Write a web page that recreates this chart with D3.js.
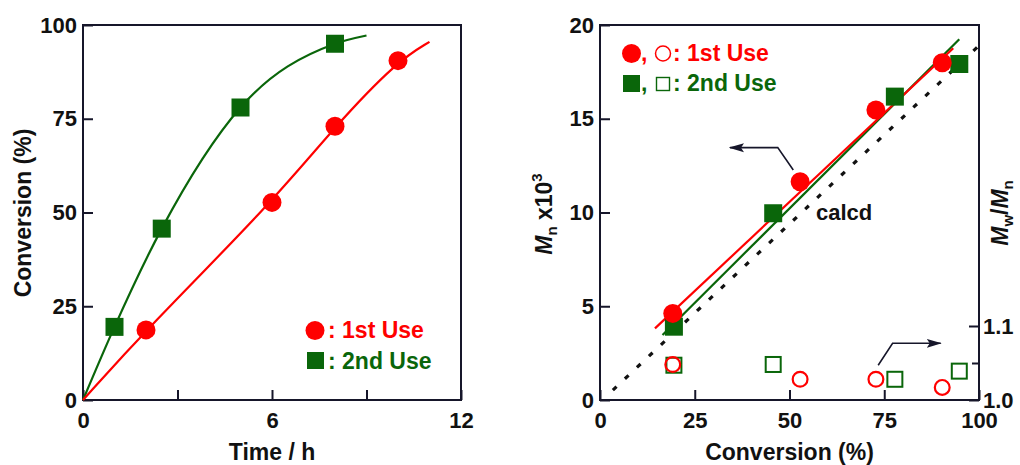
<!DOCTYPE html>
<html><head><meta charset="utf-8">
<script src="https://cdn.jsdelivr.net/npm/d3@7/dist/d3.min.js"></script>
<style>
html,body{margin:0;padding:0;background:#fff;}
svg{display:block;font-family:"Liberation Sans",Arial,Helvetica,sans-serif;font-weight:bold;}
</style></head><body>
<svg id="chart" width="1020" height="465"></svg>
<script>
// ---- Time–conversion data (left panel) ----
const timeUse1 = [2, 6, 8, 10];
const convUse1 = [18.7, 52.7, 73, 90.5];
const timeUse2 = [1, 2.5, 5, 8];
const convUse2 = [19.5, 45.7, 78, 95];
// guide curves drawn through the kinetic points
const fitTime1 = [0, 2, 6, 8, 10, 11];
const fitConv1 = [0, 18.7, 52.7, 73, 90.5, 95.5];
const fitTime2 = [0, 1, 2.5, 5, 8, 9];
const fitConv2 = [0, 19.5, 45.7, 78, 95, 97.2];

// ---- Molecular weight data (right panel) ----
const mnConv1 = [19.2, 52.8, 72.8, 90.3];
const mn1 = [4.62, 11.64, 15.47, 17.99];
const pdi1 = [1.048, 1.028, 1.028, 1.017];
const mnConv2 = [19.5, 45.7, 77.8, 94.8];
const mn2 = [3.91, 9.96, 16.18, 17.92];
const pdi2 = [1.047, 1.048, 1.028, 1.039];
// linear fits and theoretical line
const lineConv1 = [14.5, 93.2];
const lineMn1 = [3.82, 18.76];
const lineConv2 = [16.5, 94.8];
const lineMn2 = [3.47, 19.24];
const calcdConv = [3.4, 100];
const calcdMn = [0.53, 18.9];

// ---- Tick values and labels ----
const leftXTicks = [0, 3, 6, 9, 12];
const leftXLabels = ["0", "", "6", "", "12"];
const leftYTicks = [0, 25, 50, 75, 100];
const rightXTicks = [0, 25, 50, 75, 100];
const rightYTicks = [0, 5, 10, 15, 20];
const pdiTicks = [1.0, 1.05, 1.1];
const pdiLabels = ["1.0", "", "1.1"];

const RED = "#ff0000", GREEN = "#0a660a", INK = "#16162a";
const svg = d3.select("#chart");
svg.append("rect").attr("width", 1020).attr("height", 465).attr("fill", "#fff");

const defs = svg.append("defs");
defs.append("marker").attr("id", "head")
  .attr("viewBox", "0 -5 15 10").attr("refX", 14).attr("refY", 0)
  .attr("markerUnits", "userSpaceOnUse").attr("markerWidth", 15).attr("markerHeight", 10)
  .attr("orient", "auto")
  .append("path").attr("d", "M0,-4.5L15,0L0,4.5L3,0Z").attr("fill", INK);

function styleAxis(g, size) {
  g.select(".domain").remove();
  g.selectAll(".tick line").attr("stroke", INK).attr("stroke-width", 2);
  g.selectAll(".tick text").attr("fill", "#111").attr("font-size", size)
    .attr("font-weight", "bold").attr("font-family", "Liberation Sans, Arial, sans-serif");
}

// ================= Left panel =================
const xL = d3.scaleLinear().domain([0, 12]).range([83, 461]);
const yL = d3.scaleLinear().domain([0, 100]).range([400, 25]);

const gl = svg.append("g");
gl.append("g").attr("transform", `translate(0,${yL(0)})`)
  .call(d3.axisBottom(xL).tickValues(leftXTicks).tickFormat((d, i) => leftXLabels[i])
    .tickSizeInner(-10).tickSizeOuter(0).tickPadding(12))
  .call(g => styleAxis(g, 22));
gl.append("g").attr("transform", `translate(${xL(0)},0)`)
  .call(d3.axisLeft(yL).tickValues(leftYTicks).tickSizeInner(-10).tickSizeOuter(0).tickPadding(6))
  .call(g => styleAxis(g, 22));
gl.append("rect").attr("x", xL(0)).attr("y", yL(100))
  .attr("width", xL(12) - xL(0)).attr("height", yL(0) - yL(100))
  .attr("fill", "none").attr("stroke", INK).attr("stroke-width", 2);

const curveL2 = d3.line().x(d => xL(d[0])).y(d => yL(d[1])).curve(d3.curveMonotoneX);
const curveL1 = d3.line().x(d => xL(d[0])).y(d => yL(d[1])).curve(d3.curveBasis);
gl.append("path").datum(d3.zip(fitTime2, fitConv2)).attr("d", curveL2)
  .attr("fill", "none").attr("stroke", GREEN).attr("stroke-width", 2.2);
gl.append("path").datum(d3.zip(fitTime1, fitConv1)).attr("d", curveL1)
  .attr("fill", "none").attr("stroke", RED).attr("stroke-width", 2.2);

gl.selectAll("rect.use2").data(d3.zip(timeUse2, convUse2)).join("rect").attr("class", "use2")
  .attr("x", d => xL(d[0]) - 9).attr("y", d => yL(d[1]) - 9)
  .attr("width", 18).attr("height", 18).attr("fill", GREEN);
gl.selectAll("circle.use1").data(d3.zip(timeUse1, convUse1)).join("circle").attr("class", "use1")
  .attr("cx", d => xL(d[0])).attr("cy", d => yL(d[1])).attr("r", 9.5).attr("fill", RED);

// legend
gl.append("circle").attr("cx", 315).attr("cy", 330.5).attr("r", 9.5).attr("fill", RED);
gl.append("text").attr("x", 328).attr("y", 338).attr("font-size", 23).attr("fill", RED).text(": 1st Use");
gl.append("rect").attr("x", 307).attr("y", 352).attr("width", 17).attr("height", 17).attr("fill", GREEN);
gl.append("text").attr("x", 328).attr("y", 368.5).attr("font-size", 23).attr("fill", GREEN).text(": 2nd Use");

// titles
gl.append("text").attr("x", 272).attr("y", 460).attr("text-anchor", "middle")
  .attr("font-size", 23).attr("fill", "#111").text("Time / h");
gl.append("text").attr("transform", "translate(31,213) rotate(-90)").attr("text-anchor", "middle")
  .attr("font-size", 23).attr("fill", "#111").text("Conversion (%)");

// ================= Right panel =================
const xR = d3.scaleLinear().domain([0, 100]).range([600, 979]);
const yR = d3.scaleLinear().domain([0, 20]).range([400, 25]);
const yP = d3.scaleLinear().domain([1.0, 1.5]).range([400, 30]);

const gr = svg.append("g");
gr.append("g").attr("transform", `translate(0,${yR(0)})`)
  .call(d3.axisBottom(xR).tickValues(rightXTicks).tickSizeInner(-10).tickSizeOuter(0).tickPadding(12))
  .call(g => styleAxis(g, 22));
gr.append("g").attr("transform", `translate(${xR(0)},0)`)
  .call(d3.axisLeft(yR).tickValues(rightYTicks).tickSizeInner(-10).tickSizeOuter(0).tickPadding(6))
  .call(g => styleAxis(g, 22));
const pdiAxis = gr.append("g").attr("transform", `translate(${xR(100)},0)`)
  .call(d3.axisRight(yP).tickValues(pdiTicks).tickFormat((d, i) => pdiLabels[i])
    .tickSizeInner(-10).tickSizeOuter(0).tickPadding(4))
  .call(g => styleAxis(g, 22));
pdiAxis.selectAll(".tick line").filter(d => d === 1.05).attr("x2", -7);
gr.append("rect").attr("x", xR(0)).attr("y", yR(20))
  .attr("width", xR(100) - xR(0)).attr("height", yR(0) - yR(20))
  .attr("fill", "none").attr("stroke", INK).attr("stroke-width", 2);

const lineR = d3.line().x(d => xR(d[0])).y(d => yR(d[1]));
gr.append("path").datum(d3.zip(calcdConv, calcdMn)).attr("d", lineR)
  .attr("fill", "none").attr("stroke", "#111").attr("stroke-width", 3.2)
  .attr("stroke-dasharray", "5,11.5");
gr.append("path").datum(d3.zip(lineConv2, lineMn2)).attr("d", lineR)
  .attr("fill", "none").attr("stroke", GREEN).attr("stroke-width", 2.2);
gr.append("path").datum(d3.zip(lineConv1, lineMn1)).attr("d", lineR)
  .attr("fill", "none").attr("stroke", RED).attr("stroke-width", 2.2);

// Mn markers
gr.selectAll("rect.mn2").data(d3.zip(mnConv2, mn2)).join("rect").attr("class", "mn2")
  .attr("x", d => xR(d[0]) - 9).attr("y", d => yR(d[1]) - 9)
  .attr("width", 18).attr("height", 18).attr("fill", GREEN);
gr.selectAll("circle.mn1").data(d3.zip(mnConv1, mn1)).join("circle").attr("class", "mn1")
  .attr("cx", d => xR(d[0])).attr("cy", d => yR(d[1])).attr("r", 9.5).attr("fill", RED);

// Mw/Mn markers
gr.selectAll("rect.pdi2").data(d3.zip(mnConv2, pdi2)).join("rect").attr("class", "pdi2")
  .attr("x", d => xR(d[0]) - 7.5).attr("y", d => yP(d[1]) - 7.5)
  .attr("width", 15).attr("height", 15).attr("fill", "#fff").attr("stroke", GREEN).attr("stroke-width", 2);
gr.selectAll("circle.pdi1").data(d3.zip(mnConv1, pdi1)).join("circle").attr("class", "pdi1")
  .attr("cx", d => xR(d[0])).attr("cy", d => yP(d[1])).attr("r", 7.4)
  .attr("fill", "none").attr("stroke", RED).attr("stroke-width", 2.2);

// pointer arrows (data coordinates)
const arrowMn = [[51.0, 12.27], [46.9, 13.46], [34.3, 13.46]];
const arrowPdi = [[73.4, 1.047], [77.2, 1.0766], [89.9, 1.0766]];
gr.append("path").datum(arrowMn).attr("d", d3.line().x(d => xR(d[0])).y(d => yR(d[1])))
  .attr("fill", "none").attr("stroke", INK).attr("stroke-width", 1.6).attr("marker-end", "url(#head)");
gr.append("path").datum(arrowPdi).attr("d", d3.line().x(d => xR(d[0])).y(d => yP(d[1])))
  .attr("fill", "none").attr("stroke", INK).attr("stroke-width", 1.6).attr("marker-end", "url(#head)");

gr.append("text").attr("x", 816).attr("y", 220).attr("font-size", 22).attr("fill", "#111").text("calcd");

// legend
gr.append("circle").attr("cx", 631.5).attr("cy", 53.5).attr("r", 9.5).attr("fill", RED);
gr.append("text").attr("x", 641).attr("y", 61).attr("font-size", 23).attr("fill", RED).text(",");
gr.append("circle").attr("cx", 663).attr("cy", 53.5).attr("r", 7.5).attr("fill", "none")
  .attr("stroke", RED).attr("stroke-width", 1.5);
gr.append("text").attr("x", 673).attr("y", 61).attr("font-size", 23).attr("fill", RED).text(": 1st Use");
gr.append("rect").attr("x", 623).attr("y", 75).attr("width", 17).attr("height", 17).attr("fill", GREEN);
gr.append("text").attr("x", 641).attr("y", 91).attr("font-size", 23).attr("fill", GREEN).text(",");
gr.append("rect").attr("x", 656.5).attr("y", 77.5).attr("width", 13).attr("height", 13).attr("fill", "none")
  .attr("stroke", GREEN).attr("stroke-width", 1.4);
gr.append("text").attr("x", 673).attr("y", 91).attr("font-size", 23).attr("fill", GREEN).text(": 2nd Use");

// titles
gr.append("text").attr("x", xR(50)).attr("y", 460).attr("text-anchor", "middle")
  .attr("font-size", 23).attr("fill", "#111").text("Conversion (%)");

const tMn = gr.append("text").attr("transform", "translate(552,214) rotate(-90)")
  .attr("text-anchor", "middle").attr("font-size", 23).attr("fill", "#111");
tMn.append("tspan").attr("font-style", "italic").text("M");
tMn.append("tspan").attr("font-size", 15).attr("dy", 5).text("n");
tMn.append("tspan").attr("dy", -5).text(" x10");
tMn.append("tspan").attr("font-size", 15).attr("dy", -10).text("3");

const tPdi = gr.append("text").attr("transform", "translate(1008,213) rotate(-90)")
  .attr("text-anchor", "middle").attr("font-size", 23).attr("fill", "#111");
tPdi.append("tspan").attr("font-style", "italic").text("M");
tPdi.append("tspan").attr("font-size", 15).attr("dy", 5).text("w");
tPdi.append("tspan").attr("dy", -5).text("/");
tPdi.append("tspan").attr("font-style", "italic").text("M");
tPdi.append("tspan").attr("font-size", 15).attr("dy", 5).text("n");
</script></body></html>
